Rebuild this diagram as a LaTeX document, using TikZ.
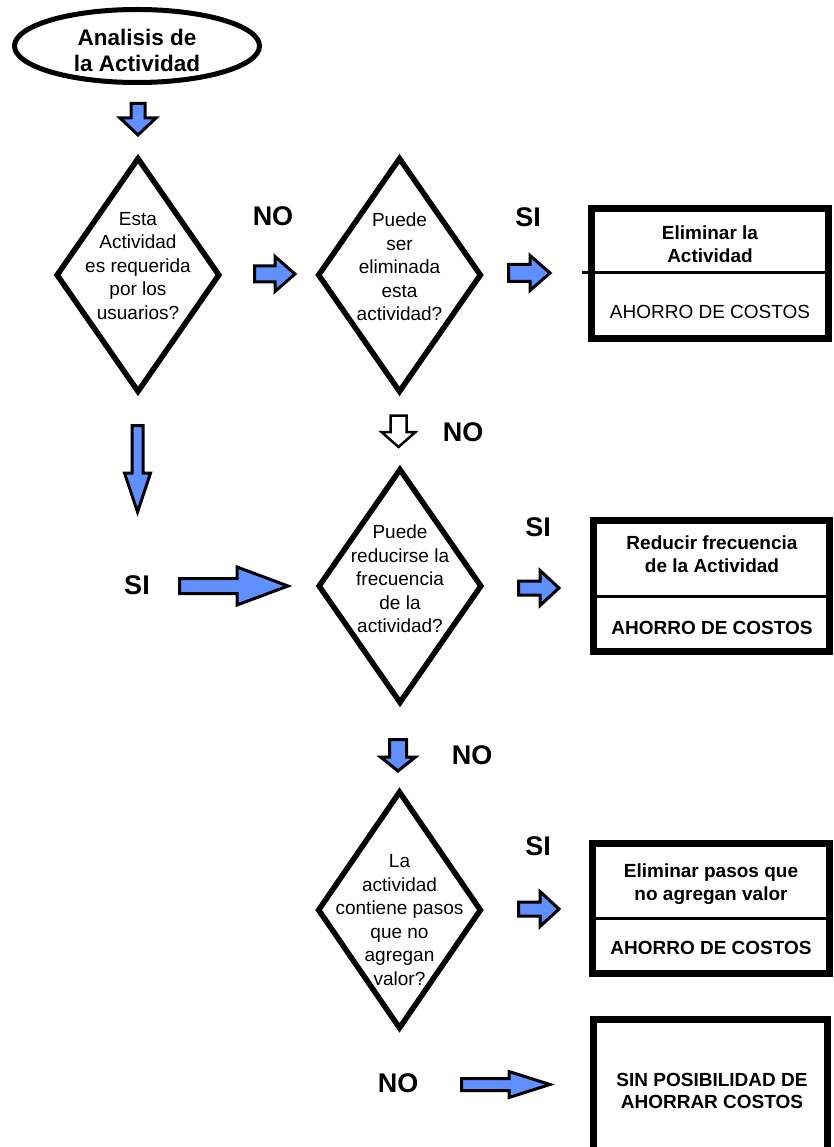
\documentclass[tikz,border=0pt]{standalone}
\usepackage{fontspec}
\setmainfont{Liberation Sans}
\usetikzlibrary{shapes.geometric}
\definecolor{arrowblue}{RGB}{96,144,255}
\tikzset{
  startnode/.style={ellipse, draw, line width=5pt, minimum width=245pt, minimum height=73pt, inner sep=0pt},
  starttext/.style={align=center, font=\fontsize{22.5}{26}\selectfont\bfseries, inner sep=0pt},
  decision/.style={diamond, draw, line width=5.5pt, minimum width=164pt, minimum height=235pt, inner sep=0pt},
  qtext/.style={align=center, font=\fontsize{19}{23.5}\selectfont, inner sep=0pt},
  outcome/.style={rectangle, draw, line width=7pt, inner sep=0pt},
  btext/.style={align=center, font=\fontsize{19}{22.5}\selectfont\bfseries, inner sep=0pt},
  rtext/.style={align=center, font=\fontsize{19}{22.5}\selectfont, inner sep=0pt},
  answer/.style={font=\fontsize{27}{30}\selectfont\bfseries, inner sep=0pt},
  blockarrow/.style={draw, line width=3pt, fill=arrowblue, line join=miter},
  hollowarrow/.style={draw, line width=2.5pt, fill=white, line join=miter},
  divider/.style={line width=3pt},
}
% horizontal block arrow: [style] left x, head x, tip x, centre y, shaft half, head half
\newcommand\hblockarrow[7][blockarrow]{%
  \draw[#1] (#2,#5-#6) -- (#3,#5-#6) -- (#3,#5-#7) -- (#4,#5) -- (#3,#5+#7)
    -- (#3,#5+#6) -- (#2,#5+#6) -- cycle;}
% vertical block arrow: [style] top y, head y, tip y, centre x, shaft half, head half
\newcommand\vblockarrow[7][blockarrow]{%
  \draw[#1] (#5-#6,#2) -- (#5-#6,#3) -- (#5-#7,#3) -- (#5,#4) -- (#5+#7,#3)
    -- (#5+#6,#3) -- (#5+#6,#2) -- cycle;}
\begin{document}
\begin{tikzpicture}[x=1pt,y=-1pt]
\useasboundingbox (0,0) rectangle (833,1147);
\clip (0,0) rectangle (833,1147);
\fill[white] (0,0) rectangle (833,1147);

% start
\node[startnode] (start) at (137,46) {};
\node[starttext] (startlbl) at (137,50) {Analisis de\\la Actividad};

% decisions
\node[decision] (q1) at (138,275) {};
\node[decision] (q2) at (399.5,275) {};
\node[decision] (q3) at (400,586) {};
\node[decision, minimum height=238pt] (q4) at (399.5,910) {};

\node[qtext] (q1lbl) at (138,266) {Esta\\Actividad\\es requerida\\por los\\usuarios?};
\node[qtext] (q2lbl) at (399.5,267) {Puede\\ser\\eliminada\\esta\\actividad?};
\node[qtext] (q3lbl) at (400,579) {Puede\\reducirse la\\frecuencia\\de la\\actividad?};
\node[qtext] (q4lbl) at (399.5,920) {La\\actividad\\contiene pasos\\que no\\agregan\\valor?};

% outcomes
\node[outcome, minimum width=237pt, minimum height=130pt] (r1) at (710,273.5) {};
\node[outcome, minimum width=235.5pt, minimum height=131pt] (r2) at (711.25,586) {};
\node[outcome, minimum width=236.5pt, minimum height=130pt] (r3) at (710.75,908.5) {};
\node[outcome, minimum width=233.5pt, minimum height=140.5pt] (r4) at (710.25,1089.75) {};

\draw[divider] (r1.east |- 0,273) -- (r1.west |- 0,273) -- ++(-6.5,0);
\draw[divider] (r2.east |- 0,596) -- (r2.west |- 0,596);
\draw[divider] (r3.east |- 0,918) -- (r3.west |- 0,918);

\node[btext] (r1top) at (710,244) {Eliminar la\\Actividad};
\node[rtext] (r1bot) at (710,312) {AHORRO DE COSTOS};
\node[btext] (r2top) at (712,554) {Reducir frecuencia\\de la Actividad};
\node[btext] (r2bot) at (712,628) {AHORRO DE COSTOS};
\node[btext] (r3top) at (711,884) {Eliminar pasos que\\no agregan valor};
\node[btext] (r3bot) at (711,948) {AHORRO DE COSTOS};
\node[btext] (r4lbl) at (712,1091) {SIN POSIBILIDAD DE\\AHORRAR COSTOS};

% answers
\node[answer] (no1) at (273,216) {NO};
\node[answer] (si1) at (528,217) {SI};
\node[answer] (no2) at (463,432) {NO};
\node[answer] (si0) at (137,585) {SI};
\node[answer] (si2) at (538,527) {SI};
\node[answer] (no3) at (472,755) {NO};
\node[answer] (si3) at (538,846) {SI};
\node[answer] (no4) at (398,1083) {NO};

% block arrows
\vblockarrow{103.5}{118}{135}{138}{7}{18}
\hblockarrow{254.5}{275}{295}{274}{8}{17.5}
\hblockarrow{508.5}{530}{550}{273}{8.5}{17.5}
\vblockarrow[hollowarrow]{415.5}{432}{447}{398.5}{8}{17}
\vblockarrow{425.5}{473}{512}{137.5}{5.5}{13}
\hblockarrow{179.5}{237}{288}{586}{7.5}{19}
\hblockarrow{518.5}{540}{559}{588}{7}{17.5}
\vblockarrow{739.5}{757}{771}{398}{8.5}{17.5}
\hblockarrow{518.5}{540}{559}{909}{7}{17.5}
\hblockarrow{461.5}{509}{550}{1084.5}{6}{13}
\end{tikzpicture}
\end{document}
